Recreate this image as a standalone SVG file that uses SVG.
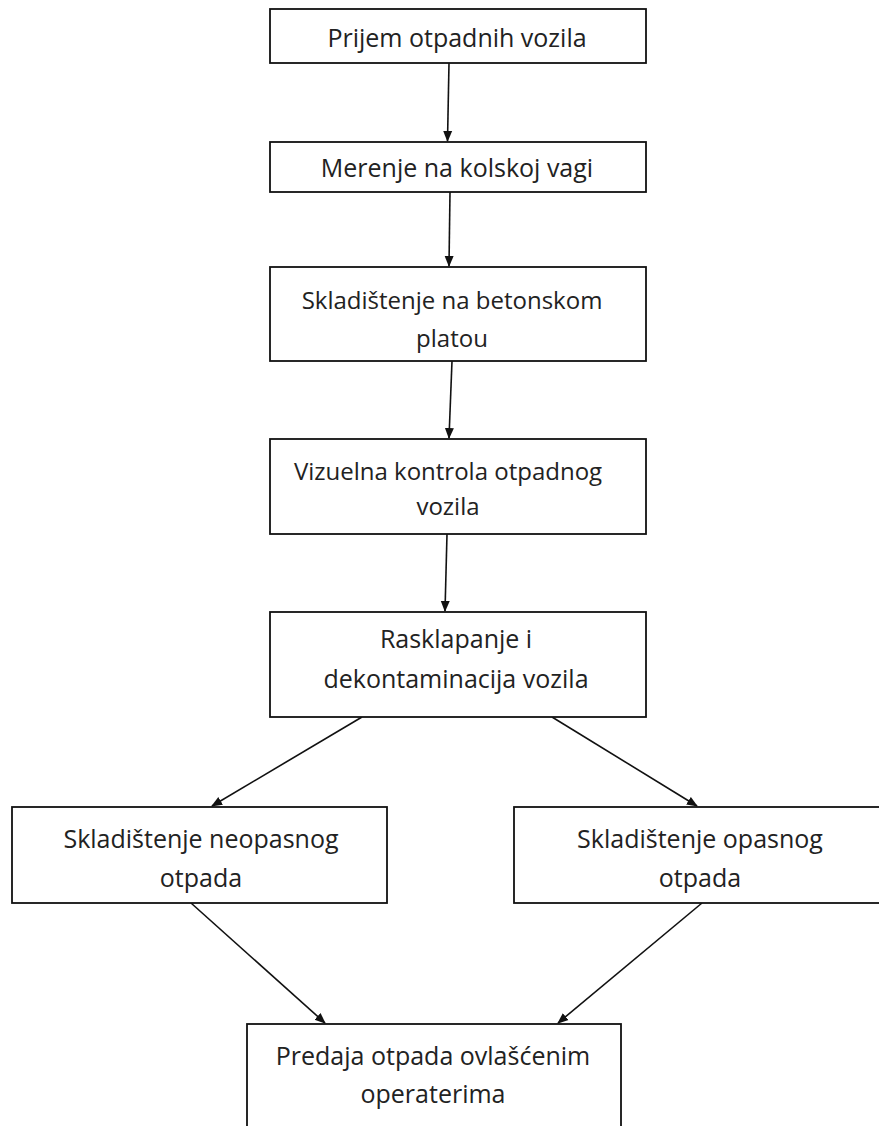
<svg xmlns="http://www.w3.org/2000/svg" width="879" height="1126" viewBox="0 0 879 1126">
<style>
.box{fill:#fff;stroke:#111;stroke-width:1.8}
.t{font-family:"Open Sans","Liberation Sans",sans-serif;font-size:25px;fill:#222;text-anchor:middle}
.t2{font-size:24px}
.c{stroke:#111;stroke-width:1.6;fill:none;marker-end:url(#ah)}
</style>
<defs>
<marker id="ah" markerWidth="11" markerHeight="11" refX="10" refY="5" orient="auto" markerUnits="userSpaceOnUse">
<path d="M0,0.5 L11,5 L0,9.5 Z" fill="#111"/>
</marker>
</defs>
<rect width="879" height="1126" fill="#fff"/>
<g id="connectors">
<line class="c" x1="449" y1="63" x2="447.5" y2="141"/>
<line class="c" x1="450" y1="192" x2="449" y2="266"/>
<line class="c" x1="452" y1="361" x2="449" y2="438"/>
<line class="c" x1="447" y1="534" x2="445" y2="611"/>
<line class="c" x1="362" y1="717" x2="212" y2="806"/>
<line class="c" x1="552" y1="717" x2="697" y2="806"/>
<line class="c" x1="191" y1="903" x2="325" y2="1023"/>
<line class="c" x1="702" y1="903" x2="558" y2="1023"/>
</g>
<g id="n1"><rect class="box" x="270" y="9" width="376" height="54"/><text class="t" x="457" y="47">Prijem otpadnih vozila</text></g>
<g id="n2"><rect class="box" x="270" y="142" width="376" height="50"/><text class="t" x="457" y="177">Merenje na kolskoj vagi</text></g>
<g id="n3"><rect class="box" x="270" y="267" width="376" height="94"/><text class="t t2" x="452" y="309">Skladištenje na betonskom</text><text class="t t2" x="452" y="347">platou</text></g>
<g id="n4"><rect class="box" x="270" y="439" width="376" height="95"/><text class="t t2" x="448" y="480">Vizuelna kontrola otpadnog</text><text class="t t2" x="448" y="515">vozila</text></g>
<g id="n5"><rect class="box" x="270" y="612" width="376" height="105"/><text class="t" x="456" y="648">Rasklapanje i</text><text class="t" x="456" y="688">dekontaminacija vozila</text></g>
<g id="n6"><rect class="box" x="12" y="807" width="375" height="96"/><text class="t" x="201" y="848">Skladištenje neopasnog</text><text class="t" x="201" y="887">otpada</text></g>
<g id="n7"><rect class="box" x="514" y="807" width="375" height="96"/><text class="t" x="700" y="848">Skladištenje opasnog</text><text class="t" x="700" y="887">otpada</text></g>
<g id="n8"><rect class="box" x="247" y="1024" width="374" height="110"/><text class="t" x="433" y="1065">Predaja otpada ovlašćenim</text><text class="t" x="433" y="1103">operaterima</text></g>
</svg>
